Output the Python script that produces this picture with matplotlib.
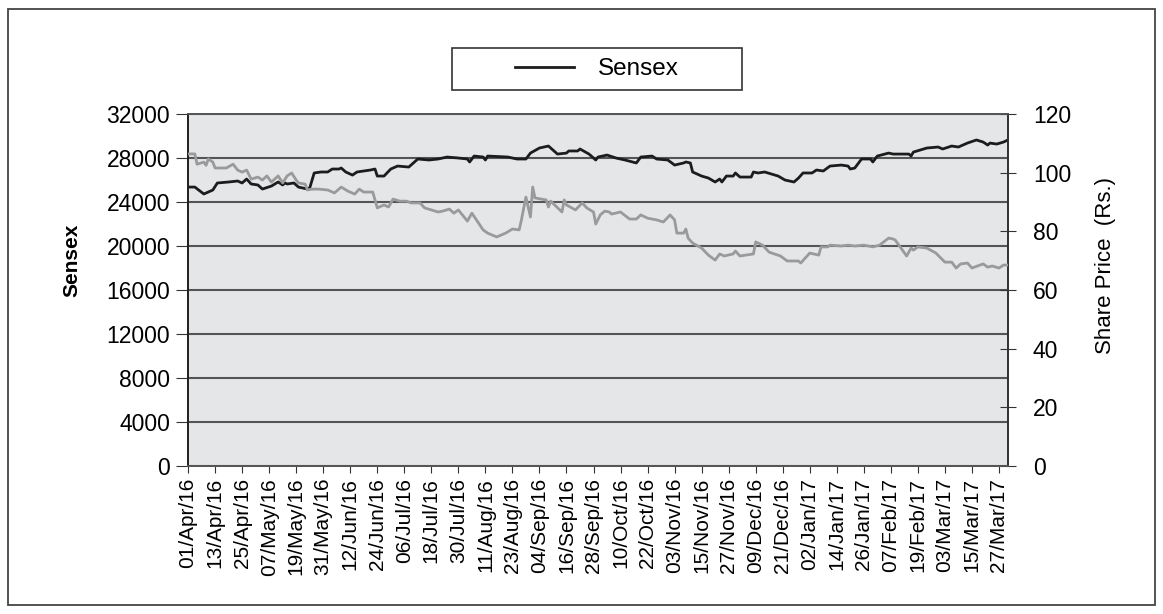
import numpy as np
import pandas as pd
import matplotlib
matplotlib.use('Agg')
import matplotlib.pyplot as plt
import matplotlib.dates as mdates
from matplotlib.patches import Rectangle

plt.rcParams['font.family'] = ['Liberation Sans', 'DejaVu Sans']

# Sensex (left axis)
sensex_dates = ['2016-04-01', '2016-04-04', '2016-04-08', '2016-04-12', '2016-04-14', '2016-04-19',
                '2016-04-23', '2016-04-25', '2016-04-27', '2016-04-29', '2016-05-02', '2016-05-04',
                '2016-05-08', '2016-05-11', '2016-05-13', '2016-05-14', '2016-05-15', '2016-05-18',
                '2016-05-20', '2016-05-24', '2016-05-25', '2016-05-27', '2016-05-30', '2016-06-02',
                '2016-06-04', '2016-06-07', '2016-06-08', '2016-06-10', '2016-06-13', '2016-06-15',
                '2016-06-18', '2016-06-21', '2016-06-23', '2016-06-24', '2016-06-27', '2016-06-30',
                '2016-07-03', '2016-07-08', '2016-07-12', '2016-07-17', '2016-07-21', '2016-07-25',
                '2016-07-30', '2016-08-03', '2016-08-04', '2016-08-06', '2016-08-10', '2016-08-11',
                '2016-08-12', '2016-08-21', '2016-08-25', '2016-08-29', '2016-08-31', '2016-09-04',
                '2016-09-08', '2016-09-12', '2016-09-16', '2016-09-17', '2016-09-21', '2016-09-22',
                '2016-09-26', '2016-09-29', '2016-09-30', '2016-10-04', '2016-10-08', '2016-10-12',
                '2016-10-17', '2016-10-19', '2016-10-24', '2016-10-26', '2016-10-31', '2016-11-03',
                '2016-11-07', '2016-11-08', '2016-11-10', '2016-11-11', '2016-11-15', '2016-11-18',
                '2016-11-21', '2016-11-23', '2016-11-24', '2016-11-26', '2016-11-29', '2016-11-30',
                '2016-12-02', '2016-12-07', '2016-12-08', '2016-12-10', '2016-12-13', '2016-12-19',
                '2016-12-22', '2016-12-26', '2016-12-28', '2016-12-30', '2017-01-03', '2017-01-05',
                '2017-01-08', '2017-01-11', '2017-01-16', '2017-01-19', '2017-01-20', '2017-01-22',
                '2017-01-25', '2017-01-29', '2017-01-30', '2017-02-01', '2017-02-06', '2017-02-08',
                '2017-02-15', '2017-02-16', '2017-02-17', '2017-02-23', '2017-02-28', '2017-03-02',
                '2017-03-06', '2017-03-09', '2017-03-13', '2017-03-17', '2017-03-20', '2017-03-22',
                '2017-03-23', '2017-03-26', '2017-03-29', '2017-03-31']
sensex_values = [25360, 25360, 24730, 25090, 25730, 25820,
                 25910, 25730, 26090, 25640, 25550, 25180,
                 25450, 25820, 25550, 25730, 25640, 25730,
                 25360, 25180, 25270, 26640, 26730, 26730,
                 27000, 27000, 27090, 26730, 26450, 26730,
                 26820, 26910, 27000, 26360, 26360, 27000,
                 27270, 27180, 27910, 27820, 27910, 28090,
                 28000, 27910, 27640, 28180, 28090, 27820,
                 28180, 28090, 27910, 27910, 28450, 28910,
                 29090, 28360, 28450, 28640, 28640, 28820,
                 28360, 27820, 28090, 28270, 28000, 27820,
                 27550, 28090, 28180, 27910, 27820, 27360,
                 27550, 27640, 27550, 26730, 26360, 26180,
                 25820, 26090, 25820, 26360, 26360, 26640,
                 26270, 26270, 26730, 26640, 26730, 26360,
                 26000, 25820, 26180, 26640, 26640, 26910,
                 26820, 27270, 27360, 27270, 27000, 27090,
                 27910, 27910, 27640, 28180, 28450, 28360,
                 28360, 28180, 28540, 28910, 29000, 28820,
                 29090, 29000, 29360, 29640, 29450, 29180,
                 29360, 29270, 29450, 29640]

# share price in Rs. (right axis)
price_dates = ['2016-04-01', '2016-04-04', '2016-04-05', '2016-04-08', '2016-04-09', '2016-04-10',
               '2016-04-12', '2016-04-13', '2016-04-18', '2016-04-21', '2016-04-23', '2016-04-25',
               '2016-04-27', '2016-04-29', '2016-05-02', '2016-05-04', '2016-05-06', '2016-05-08',
               '2016-05-11', '2016-05-13', '2016-05-15', '2016-05-17', '2016-05-19', '2016-05-20',
               '2016-05-23', '2016-05-24', '2016-05-26', '2016-05-29', '2016-06-02', '2016-06-05',
               '2016-06-08', '2016-06-11', '2016-06-14', '2016-06-16', '2016-06-18', '2016-06-22',
               '2016-06-24', '2016-06-27', '2016-06-29', '2016-07-01', '2016-07-04', '2016-07-07',
               '2016-07-09', '2016-07-13', '2016-07-15', '2016-07-21', '2016-07-23', '2016-07-26',
               '2016-07-28', '2016-07-30', '2016-08-03', '2016-08-05', '2016-08-10', '2016-08-12',
               '2016-08-16', '2016-08-20', '2016-08-23', '2016-08-26', '2016-08-27', '2016-08-29',
               '2016-08-31', '2016-09-01', '2016-09-02', '2016-09-07', '2016-09-08', '2016-09-09',
               '2016-09-14', '2016-09-15', '2016-09-16', '2016-09-20', '2016-09-23', '2016-09-25',
               '2016-09-28', '2016-09-29', '2016-10-01', '2016-10-03', '2016-10-05', '2016-10-06',
               '2016-10-10', '2016-10-14', '2016-10-17', '2016-10-19', '2016-10-22', '2016-10-26',
               '2016-10-29', '2016-11-01', '2016-11-03', '2016-11-04', '2016-11-07', '2016-11-08',
               '2016-11-09', '2016-11-11', '2016-11-15', '2016-11-18', '2016-11-21', '2016-11-23',
               '2016-11-25', '2016-11-29', '2016-11-30', '2016-12-02', '2016-12-08', '2016-12-09',
               '2016-12-12', '2016-12-15', '2016-12-20', '2016-12-23', '2016-12-28', '2016-12-29',
               '2016-12-31', '2017-01-02', '2017-01-06', '2017-01-07', '2017-01-10', '2017-01-11',
               '2017-01-16', '2017-01-19', '2017-01-22', '2017-01-26', '2017-01-30', '2017-02-02',
               '2017-02-06', '2017-02-08', '2017-02-09', '2017-02-14', '2017-02-16', '2017-02-17',
               '2017-02-19', '2017-02-23', '2017-02-27', '2017-03-03', '2017-03-06', '2017-03-08',
               '2017-03-10', '2017-03-13', '2017-03-15', '2017-03-20', '2017-03-22', '2017-03-24',
               '2017-03-27', '2017-03-29', '2017-03-31']
price_values = [106.4, 106.4, 102.9, 103.6, 102.5, 104.7,
                103.6, 101.6, 101.6, 102.9, 100.9, 100.2,
                100.9, 97.8, 98.5, 97.5, 98.9, 96.8,
                98.9, 96.5, 98.9, 99.9, 97.5, 96.5,
                96.1, 94.1, 94.4, 94.4, 94.1, 93.1,
                95.1, 93.7, 92.7, 94.4, 93.4, 93.4,
                88.0, 89.0, 88.3, 91.0, 90.3, 90.3,
                89.7, 89.7, 88.0, 86.6, 86.9, 87.6,
                86.2, 87.3, 83.5, 86.2, 80.5, 79.4,
                78.1, 79.4, 80.8, 80.5, 83.9, 91.7,
                84.9, 95.1, 91.4, 90.7, 88.3, 90.3,
                86.6, 90.7, 89.0, 87.3, 89.7, 88.0,
                86.6, 82.5, 85.6, 86.9, 86.6, 85.9,
                86.6, 84.2, 84.2, 85.6, 84.5, 83.9,
                83.2, 85.6, 83.9, 79.4, 79.4, 80.8,
                77.7, 76.0, 74.3, 71.9, 70.2, 72.3,
                71.6, 72.3, 73.3, 71.6, 72.3, 76.4,
                75.3, 72.9, 71.6, 69.9, 69.9, 69.2,
                70.9, 72.6, 71.9, 74.7, 74.7, 75.3,
                75.0, 75.3, 75.0, 75.3, 74.7, 75.3,
                77.7, 77.4, 77.0, 71.6, 74.3, 73.6,
                74.7, 74.3, 72.6, 69.5, 69.5, 67.5,
                68.9, 69.2, 67.5, 68.9, 67.8, 68.2,
                67.5, 68.5, 68.5]

sensex_ticks = list(range(0, 32001, 4000))
price_ticks = list(range(0, 121, 20))

fig = plt.figure(figsize=(11.63, 6.14), dpi=100)
ax = fig.add_axes([0.1617, 0.241, 0.7050, 0.5733])
ax.set_facecolor('#e5e6e8')

ax.plot(pd.to_datetime(sensex_dates), sensex_values, color='#1c1c1c', lw=2.0, label='Sensex', zorder=4)
ax.set_ylim(0, 32000)
ax.set_yticks(sensex_ticks)
ax.grid(axis='y', color='#555555', lw=1.5)
ax.set_axisbelow(True)

ax.set_xlim(pd.Timestamp('2016-04-01'), pd.Timestamp('2017-03-31'))
xt = pd.date_range('2016-04-01', '2017-03-27', freq='12D')
ax.set_xticks(xt)
ax.xaxis.set_major_formatter(mdates.DateFormatter('%d/%b/%y'))
ax.tick_params(axis='x', labelrotation=90, labelsize=15, length=5, color='#333333')
ax.tick_params(axis='y', labelsize=16.5, length=9, color='#333333', pad=4)

ax2 = ax.twinx()
ax2.plot(pd.to_datetime(price_dates), price_values, color='#9a9a9a', lw=2.0, zorder=3)
ax2.set_ylim(0, 120)
ax2.set_yticks(price_ticks)
ax2.tick_params(axis='y', labelsize=16.5, direction='inout', length=12, color='#333333', pad=12)

# axis titles sit above the middle of the plot in the original
fig.text(72 / 1163, 1 - 260 / 614, 'Sensex', rotation=90, fontsize=15, fontweight='bold',
         ha='center', va='center')
fig.text(1106 / 1163, 1 - 265 / 614, 'Share Price  (Rs.)', rotation=90, fontsize=16,
         ha='center', va='center')

for a in (ax, ax2):
    a.spines['top'].set_color('#555555')
    a.spines['bottom'].set_color('#555555')
    a.spines['left'].set_color('#222222')
    a.spines['right'].set_color('#333333')
    for s in a.spines.values():
        s.set_linewidth(1.3)

# legend box at the top
fig.patches.append(Rectangle((452 / 1163, 1 - 90 / 614), 290 / 1163, 42 / 614,
                             transform=fig.transFigure, fill=False, edgecolor='#333333', lw=1.2))
fig.legend(handles=ax.get_lines(), loc='center', bbox_to_anchor=(597 / 1163, 1 - 69 / 614),
           frameon=False, fontsize=17.5, handlelength=2.4, handletextpad=1.0)

# border around the whole figure
fig.patches.append(Rectangle((8 / 1163, 9 / 614), 1147 / 1163, 596 / 614,
                             transform=fig.transFigure, fill=False, edgecolor='#444444', lw=1.3))

fig.savefig('out.png', dpi=100)
